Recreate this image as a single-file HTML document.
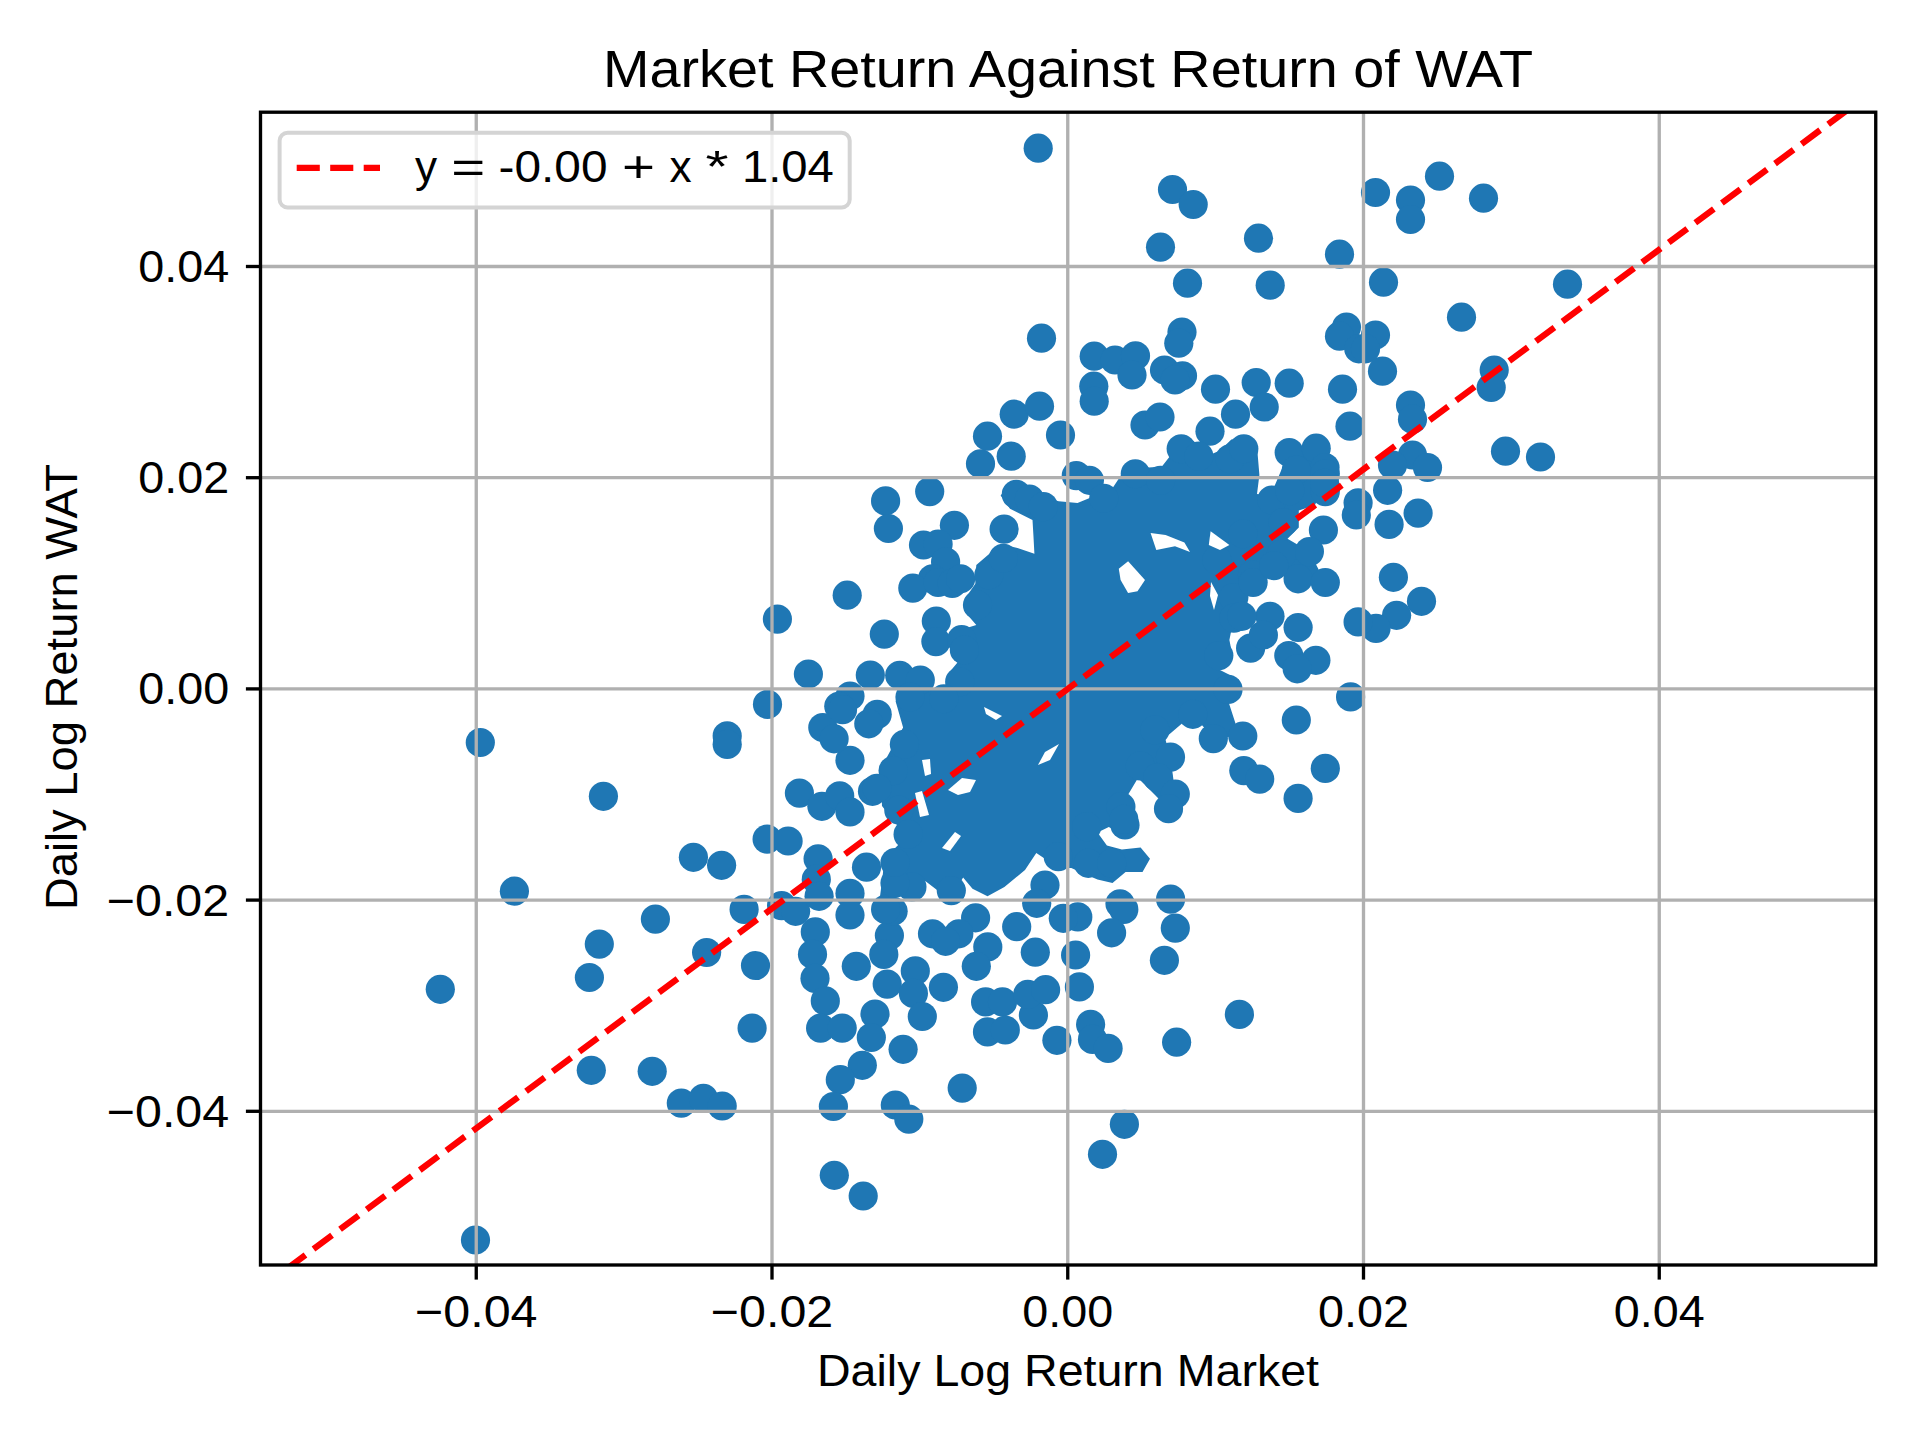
<!DOCTYPE html><html><head><meta charset="utf-8"><style>html,body{margin:0;padding:0;background:#fff;overflow:hidden}svg{display:block}text{font-family:"Liberation Sans",sans-serif;fill:#000}</style></head><body><svg width="1920" height="1440" viewBox="0 0 1920 1440"><rect width="1920" height="1440" fill="#fff"/><defs><clipPath id="ax"><rect x="260.5" y="112.2" width="1615.25" height="1152.8"/></clipPath></defs><g clip-path="url(#ax)" fill="#1f77b4"><path d="M1000.6,495.6 L1010.0,484.4 L1028.8,488.1 L1043.8,497.5 L1058.8,501.3 L1077.5,503.1 L1100.0,493.8 L1111.3,490.0 L1122.5,473.1 L1135.6,460.0 L1148.8,467.5 L1161.9,466.6 L1171.3,454.4 L1178.8,435.6 L1193.8,441.3 L1210.6,454.4 L1220.0,450.6 L1231.3,439.4 L1250.0,437.5 L1257.5,452.5 L1259.4,475.0 L1257.0,494.0 L1270.4,495.8 L1289.0,452.0 L1316.0,448.0 L1324.6,483.3 L1315.0,505.0 L1298.8,510.6 L1298.8,527.5 L1287.5,538.8 L1309.4,551.6 L1325.3,582.5 L1298.1,578.8 L1273.8,565.6 L1253.1,582.5 L1246.3,595.0 L1246.3,610.0 L1248.1,625.0 L1231.3,630.6 L1229.4,640.0 L1233.1,658.8 L1220.0,670.0 L1238.8,679.4 L1241.9,690.0 L1227.9,700.0 L1239.5,735.7 L1213.3,738.6 L1192.8,714.3 L1165.0,738.0 L1170.5,757.1 L1175.3,794.1 L1168.5,808.7 L1155.0,795.0 L1138.0,778.0 L1120.9,806.7 L1123.8,819.4 L1125.6,836.3 L1108.8,826.9 L1097.5,832.5 L1106.9,845.6 L1121.9,849.4 L1140.6,847.5 L1150.0,858.8 L1142.5,871.9 L1125.6,871.9 L1112.5,883.1 L1097.5,879.4 L1088.1,875.6 L1071.3,868.1 L1058.8,868.1 L1036.3,853.1 L1025.0,870.0 L1004.4,886.9 L987.5,896.3 L972.5,888.8 L963.1,877.5 L950.0,900.0 L925.6,881.3 L916.3,875.6 L905.0,888.8 L893.8,898.1 L878.8,905.6 L882.5,877.5 L884.4,858.8 L899.4,843.8 L897.0,825.0 L882.0,806.0 L880.6,768.8 L893.8,744.4 L903.1,727.5 L895.6,701.3 L900.0,690.0 L935.0,688.0 L946.3,688.8 L948.1,673.8 L957.5,662.5 L950.0,651.3 L951.9,632.5 L976.3,625.0 L965.0,611.9 L965.0,598.8 L975.3,583.8 L976.3,565.0 L989.4,553.8 L1002.5,544.4 L1017.5,548.1 L1034.4,553.8 L1033.4,535.0 L1032.5,520.0 L1010.0,508.8 Z"/><circle cx="1038.2" cy="148.2" r="14.6"/><circle cx="1172.5" cy="189.5" r="14.6"/><circle cx="1193.2" cy="204.5" r="14.6"/><circle cx="1160.5" cy="247.2" r="14.6"/><circle cx="1258.5" cy="238.2" r="14.6"/><circle cx="1339.5" cy="254.2" r="14.6"/><circle cx="1187.5" cy="283.2" r="14.6"/><circle cx="1270.2" cy="285.2" r="14.6"/><circle cx="1041.5" cy="338.2" r="14.6"/><circle cx="1182.0" cy="332.0" r="14.6"/><circle cx="1178.8" cy="343.2" r="14.6"/><circle cx="1346.5" cy="327.0" r="14.6"/><circle cx="1339.5" cy="336.2" r="14.6"/><circle cx="1358.8" cy="348.8" r="14.6"/><circle cx="1094.2" cy="356.2" r="14.6"/><circle cx="1115.0" cy="360.0" r="14.6"/><circle cx="1135.5" cy="355.8" r="14.6"/><circle cx="1132.0" cy="375.0" r="14.6"/><circle cx="1164.5" cy="370.0" r="14.6"/><circle cx="1182.5" cy="375.8" r="14.6"/><circle cx="1175.0" cy="380.0" r="14.6"/><circle cx="1093.8" cy="386.2" r="14.6"/><circle cx="1094.2" cy="401.2" r="14.6"/><circle cx="1215.5" cy="389.2" r="14.6"/><circle cx="1256.2" cy="382.5" r="14.6"/><circle cx="1289.2" cy="383.2" r="14.6"/><circle cx="1342.5" cy="389.2" r="14.6"/><circle cx="1264.2" cy="407.0" r="14.6"/><circle cx="1235.5" cy="414.2" r="14.6"/><circle cx="1350.0" cy="426.2" r="14.6"/><circle cx="1014.2" cy="414.2" r="14.6"/><circle cx="1039.5" cy="406.2" r="14.6"/><circle cx="987.5" cy="436.2" r="14.6"/><circle cx="1060.5" cy="435.0" r="14.6"/><circle cx="1145.0" cy="425.0" r="14.6"/><circle cx="1160.0" cy="417.0" r="14.6"/><circle cx="1210.0" cy="431.2" r="14.6"/><circle cx="1011.2" cy="456.2" r="14.6"/><circle cx="980.5" cy="463.8" r="14.6"/><circle cx="1181.2" cy="448.8" r="14.6"/><circle cx="1198.8" cy="456.2" r="14.6"/><circle cx="1230.0" cy="458.8" r="14.6"/><circle cx="1243.8" cy="448.8" r="14.6"/><circle cx="1289.2" cy="452.5" r="14.6"/><circle cx="1316.2" cy="448.2" r="14.6"/><circle cx="1375.5" cy="192.5" r="14.6"/><circle cx="1410.5" cy="200.0" r="14.6"/><circle cx="1410.5" cy="219.5" r="14.6"/><circle cx="1439.5" cy="176.2" r="14.6"/><circle cx="1483.5" cy="198.2" r="14.6"/><circle cx="1383.5" cy="282.2" r="14.6"/><circle cx="1567.5" cy="284.2" r="14.6"/><circle cx="1461.5" cy="317.2" r="14.6"/><circle cx="1375.5" cy="335.0" r="14.6"/><circle cx="1365.5" cy="348.8" r="14.6"/><circle cx="1382.5" cy="371.2" r="14.6"/><circle cx="1494.2" cy="370.0" r="14.6"/><circle cx="1491.2" cy="387.5" r="14.6"/><circle cx="1410.5" cy="405.0" r="14.6"/><circle cx="1412.5" cy="419.2" r="14.6"/><circle cx="1505.5" cy="451.2" r="14.6"/><circle cx="1540.5" cy="457.0" r="14.6"/><circle cx="1412.5" cy="455.0" r="14.6"/><circle cx="1392.5" cy="465.0" r="14.6"/><circle cx="1427.5" cy="467.5" r="14.6"/><circle cx="1325.0" cy="467.5" r="14.6"/><circle cx="929.7" cy="491.6" r="14.6"/><circle cx="885.6" cy="500.9" r="14.6"/><circle cx="888.4" cy="528.5" r="14.6"/><circle cx="954.4" cy="525.3" r="14.6"/><circle cx="923.5" cy="545.0" r="14.6"/><circle cx="938.1" cy="544.1" r="14.6"/><circle cx="945.6" cy="561.9" r="14.6"/><circle cx="932.5" cy="578.8" r="14.6"/><circle cx="912.8" cy="588.1" r="14.6"/><circle cx="938.1" cy="582.5" r="14.6"/><circle cx="952.2" cy="583.4" r="14.6"/><circle cx="960.6" cy="578.8" r="14.6"/><circle cx="988.8" cy="575.0" r="14.6"/><circle cx="847.2" cy="595.2" r="14.6"/><circle cx="777.4" cy="619.1" r="14.6"/><circle cx="936.3" cy="621.0" r="14.6"/><circle cx="935.9" cy="641.6" r="14.6"/><circle cx="884.3" cy="634.1" r="14.6"/><circle cx="977.5" cy="605.0" r="14.6"/><circle cx="961.6" cy="639.7" r="14.6"/><circle cx="964.4" cy="650.0" r="14.6"/><circle cx="808.4" cy="674.0" r="14.6"/><circle cx="870.3" cy="675.0" r="14.6"/><circle cx="899.7" cy="675.3" r="14.6"/><circle cx="920.3" cy="680.0" r="14.6"/><circle cx="959.7" cy="681.9" r="14.6"/><circle cx="850.0" cy="696.0" r="14.6"/><circle cx="838.8" cy="706.3" r="14.6"/><circle cx="767.5" cy="704.4" r="14.6"/><circle cx="910.0" cy="697.0" r="14.6"/><circle cx="943.8" cy="698.8" r="14.6"/><circle cx="1004.1" cy="529.1" r="14.6"/><circle cx="1016.3" cy="494.4" r="14.6"/><circle cx="1029.4" cy="499.0" r="14.6"/><circle cx="1043.4" cy="506.6" r="14.6"/><circle cx="1076.3" cy="475.6" r="14.6"/><circle cx="1089.4" cy="480.3" r="14.6"/><circle cx="1135.3" cy="473.8" r="14.6"/><circle cx="1160.6" cy="480.3" r="14.6"/><circle cx="1243.0" cy="533.8" r="14.6"/><circle cx="1216.9" cy="560.0" r="14.6"/><circle cx="1252.5" cy="575.0" r="14.6"/><circle cx="1233.8" cy="597.5" r="14.6"/><circle cx="1233.8" cy="618.1" r="14.6"/><circle cx="1250.6" cy="648.1" r="14.6"/><circle cx="1218.8" cy="655.6" r="14.6"/><circle cx="1228.0" cy="689.4" r="14.6"/><circle cx="1387.6" cy="490.3" r="14.6"/><circle cx="1418.1" cy="513.1" r="14.6"/><circle cx="1389.1" cy="524.4" r="14.6"/><circle cx="1358.1" cy="502.8" r="14.6"/><circle cx="1356.3" cy="515.0" r="14.6"/><circle cx="1323.4" cy="530.0" r="14.6"/><circle cx="1325.3" cy="491.6" r="14.6"/><circle cx="1325.3" cy="473.8" r="14.6"/><circle cx="1296.3" cy="470.0" r="14.6"/><circle cx="1271.9" cy="500.0" r="14.6"/><circle cx="1289.7" cy="490.6" r="14.6"/><circle cx="1283.1" cy="522.5" r="14.6"/><circle cx="1309.4" cy="551.6" r="14.6"/><circle cx="1281.3" cy="554.4" r="14.6"/><circle cx="1298.1" cy="578.8" r="14.6"/><circle cx="1325.3" cy="582.5" r="14.6"/><circle cx="1253.1" cy="582.5" r="14.6"/><circle cx="1273.8" cy="565.6" r="14.6"/><circle cx="1393.4" cy="577.3" r="14.6"/><circle cx="1421.5" cy="601.3" r="14.6"/><circle cx="1396.6" cy="615.3" r="14.6"/><circle cx="1376.0" cy="628.4" r="14.6"/><circle cx="1358.1" cy="621.9" r="14.6"/><circle cx="1270.0" cy="616.3" r="14.6"/><circle cx="1298.1" cy="627.5" r="14.6"/><circle cx="1263.4" cy="635.0" r="14.6"/><circle cx="1241.9" cy="616.3" r="14.6"/><circle cx="1288.8" cy="655.6" r="14.6"/><circle cx="1315.9" cy="660.3" r="14.6"/><circle cx="1297.2" cy="668.8" r="14.6"/><circle cx="1350.6" cy="696.9" r="14.6"/><circle cx="1296.3" cy="720.0" r="14.6"/><circle cx="1242.8" cy="736.0" r="14.6"/><circle cx="1243.8" cy="770.6" r="14.6"/><circle cx="1259.7" cy="779.1" r="14.6"/><circle cx="1325.3" cy="768.4" r="14.6"/><circle cx="1298.1" cy="798.4" r="14.6"/><circle cx="727.2" cy="735.9" r="14.6"/><circle cx="727.2" cy="744.4" r="14.6"/><circle cx="693.4" cy="857.3" r="14.6"/><circle cx="721.6" cy="865.3" r="14.6"/><circle cx="655.4" cy="919.1" r="14.6"/><circle cx="744.1" cy="909.4" r="14.6"/><circle cx="767.1" cy="839.1" r="14.6"/><circle cx="788.1" cy="841.0" r="14.6"/><circle cx="799.4" cy="793.1" r="14.6"/><circle cx="821.9" cy="806.3" r="14.6"/><circle cx="839.7" cy="795.9" r="14.6"/><circle cx="850.0" cy="811.9" r="14.6"/><circle cx="872.5" cy="791.3" r="14.6"/><circle cx="850.0" cy="760.3" r="14.6"/><circle cx="822.8" cy="727.5" r="14.6"/><circle cx="834.1" cy="738.8" r="14.6"/><circle cx="842.5" cy="709.7" r="14.6"/><circle cx="877.2" cy="714.4" r="14.6"/><circle cx="868.8" cy="723.8" r="14.6"/><circle cx="818.1" cy="858.8" r="14.6"/><circle cx="816.3" cy="879.4" r="14.6"/><circle cx="866.5" cy="867.2" r="14.6"/><circle cx="781.6" cy="905.6" r="14.6"/><circle cx="795.6" cy="911.3" r="14.6"/><circle cx="819.1" cy="896.3" r="14.6"/><circle cx="850.0" cy="893.4" r="14.6"/><circle cx="850.0" cy="915.0" r="14.6"/><circle cx="815.3" cy="931.9" r="14.6"/><circle cx="889.4" cy="935.6" r="14.6"/><circle cx="883.8" cy="954.4" r="14.6"/><circle cx="812.5" cy="954.4" r="14.6"/><circle cx="706.6" cy="952.5" r="14.6"/><circle cx="856.3" cy="966.3" r="14.6"/><circle cx="975.6" cy="917.8" r="14.6"/><circle cx="958.8" cy="933.8" r="14.6"/><circle cx="932.5" cy="933.8" r="14.6"/><circle cx="945.6" cy="941.3" r="14.6"/><circle cx="987.8" cy="946.9" r="14.6"/><circle cx="893.1" cy="911.3" r="14.6"/><circle cx="885.6" cy="909.4" r="14.6"/><circle cx="951.3" cy="890.6" r="14.6"/><circle cx="911.9" cy="886.9" r="14.6"/><circle cx="895.0" cy="883.1" r="14.6"/><circle cx="895.0" cy="862.5" r="14.6"/><circle cx="898.8" cy="810.0" r="14.6"/><circle cx="904.4" cy="744.4" r="14.6"/><circle cx="893.1" cy="770.6" r="14.6"/><circle cx="908.1" cy="834.4" r="14.6"/><circle cx="480.3" cy="742.5" r="14.6"/><circle cx="603.4" cy="796.3" r="14.6"/><circle cx="514.4" cy="891.2" r="14.6"/><circle cx="599.3" cy="944.1" r="14.6"/><circle cx="440.3" cy="989.3" r="14.6"/><circle cx="589.4" cy="977.5" r="14.6"/><circle cx="755.5" cy="965.5" r="14.6"/><circle cx="752.1" cy="1028.1" r="14.6"/><circle cx="591.3" cy="1070.3" r="14.6"/><circle cx="652.2" cy="1071.3" r="14.6"/><circle cx="681.3" cy="1103.1" r="14.6"/><circle cx="703.4" cy="1098.4" r="14.6"/><circle cx="722.2" cy="1106.0" r="14.6"/><circle cx="475.5" cy="1240.0" r="14.6"/><circle cx="815.0" cy="978.4" r="14.6"/><circle cx="825.3" cy="1000.9" r="14.6"/><circle cx="820.6" cy="1028.1" r="14.6"/><circle cx="842.2" cy="1028.1" r="14.6"/><circle cx="887.2" cy="984.1" r="14.6"/><circle cx="915.3" cy="970.9" r="14.6"/><circle cx="913.4" cy="993.4" r="14.6"/><circle cx="922.3" cy="1016.5" r="14.6"/><circle cx="875.0" cy="1014.1" r="14.6"/><circle cx="871.3" cy="1037.5" r="14.6"/><circle cx="903.1" cy="1049.3" r="14.6"/><circle cx="862.3" cy="1065.3" r="14.6"/><circle cx="840.3" cy="1079.7" r="14.6"/><circle cx="833.4" cy="1106.5" r="14.6"/><circle cx="895.3" cy="1105.0" r="14.6"/><circle cx="908.8" cy="1119.1" r="14.6"/><circle cx="962.2" cy="1088.1" r="14.6"/><circle cx="943.4" cy="987.3" r="14.6"/><circle cx="976.3" cy="966.3" r="14.6"/><circle cx="985.6" cy="1001.9" r="14.6"/><circle cx="1002.5" cy="1001.9" r="14.6"/><circle cx="987.5" cy="1031.9" r="14.6"/><circle cx="1005.3" cy="1030.0" r="14.6"/><circle cx="1033.4" cy="1015.0" r="14.6"/><circle cx="1027.8" cy="994.4" r="14.6"/><circle cx="1045.6" cy="989.7" r="14.6"/><circle cx="1035.3" cy="952.2" r="14.6"/><circle cx="1075.6" cy="955.0" r="14.6"/><circle cx="1079.4" cy="986.9" r="14.6"/><circle cx="1056.9" cy="1040.3" r="14.6"/><circle cx="1090.6" cy="1024.4" r="14.6"/><circle cx="1092.5" cy="1039.4" r="14.6"/><circle cx="834.3" cy="1175.3" r="14.6"/><circle cx="863.2" cy="1196.0" r="14.6"/><circle cx="1164.4" cy="960.3" r="14.6"/><circle cx="1239.4" cy="1014.4" r="14.6"/><circle cx="1176.6" cy="1042.2" r="14.6"/><circle cx="1108.1" cy="1048.4" r="14.6"/><circle cx="1124.4" cy="1124.3" r="14.6"/><circle cx="1102.5" cy="1154.3" r="14.6"/><circle cx="1170.6" cy="899.1" r="14.6"/><circle cx="1175.3" cy="928.1" r="14.6"/><circle cx="1120.0" cy="903.8" r="14.6"/><circle cx="1123.8" cy="909.4" r="14.6"/><circle cx="1111.6" cy="932.8" r="14.6"/><circle cx="1077.8" cy="916.9" r="14.6"/><circle cx="1045.0" cy="885.0" r="14.6"/><circle cx="1036.7" cy="903.3" r="14.6"/><circle cx="1058.3" cy="856.7" r="14.6"/><circle cx="1088.3" cy="863.3" r="14.6"/><circle cx="1111.7" cy="863.3" r="14.6"/><circle cx="1016.7" cy="926.7" r="14.6"/><circle cx="1063.3" cy="918.3" r="14.6"/><circle cx="1125.0" cy="825.0" r="14.6"/><circle cx="1086.7" cy="826.7" r="14.6"/><circle cx="1003.3" cy="558.3" r="14.6"/><circle cx="877.0" cy="788.3" r="14.6"/><circle cx="1154.9" cy="729.9" r="14.6"/><circle cx="1192.8" cy="714.3" r="14.6"/><circle cx="1213.3" cy="738.6" r="14.6"/><circle cx="1170.5" cy="757.1" r="14.6"/><circle cx="1140.3" cy="765.9" r="14.6"/><circle cx="1157.8" cy="777.5" r="14.6"/><circle cx="1175.3" cy="794.1" r="14.6"/><circle cx="1168.5" cy="808.7" r="14.6"/><circle cx="1120.9" cy="806.7" r="14.6"/><circle cx="1123.8" cy="819.4" r="14.6"/><circle cx="1103.8" cy="498.3" r="14.6"/><circle cx="1324.6" cy="483.3" r="14.6"/></g><g fill="#fff"><path d="M1118.8,568.8 L1128.1,561.3 L1145.0,580.0 L1137.5,591.3 L1128.1,593.1 L1120.6,580.0 Z"/><path d="M1150.6,533.1 L1165.6,535.0 L1184.4,542.5 L1190.0,551.9 L1175.0,546.3 L1156.3,550.0 Z"/><path d="M1210.6,531.3 L1229.4,545.0 L1220.0,550.0 L1208.8,545.0 Z"/><path d="M1211.0,582.0 L1218.0,595.0 L1214.0,610.0 L1210.0,596.0 Z"/><path d="M984.0,707.0 L1002.0,716.0 L996.0,720.0 L986.0,714.0 Z"/><path d="M1059.0,744.0 L1050.0,760.0 L1038.0,765.0 L1045.0,752.0 Z"/><path d="M948.0,790.0 L962.0,778.0 L976.0,780.0 L970.0,792.0 L958.0,795.0 Z"/><path d="M915.0,793.0 L922.0,791.0 L929.0,815.0 L920.0,817.0 Z"/><path d="M942.0,848.0 L955.0,832.0 L961.0,836.0 L950.0,851.0 Z"/><path d="M922.0,760.0 L930.0,759.0 L931.0,774.0 L925.0,776.0 Z"/></g><g stroke="#b0b0b0" stroke-width="3.33" fill="none"><line x1="476.25" y1="112.2" x2="476.25" y2="1265.0"/><line x1="772.00" y1="112.2" x2="772.00" y2="1265.0"/><line x1="1067.75" y1="112.2" x2="1067.75" y2="1265.0"/><line x1="1363.50" y1="112.2" x2="1363.50" y2="1265.0"/><line x1="1659.25" y1="112.2" x2="1659.25" y2="1265.0"/><line x1="260.5" y1="266.50" x2="1875.75" y2="266.50"/><line x1="260.5" y1="477.70" x2="1875.75" y2="477.70"/><line x1="260.5" y1="688.90" x2="1875.75" y2="688.90"/><line x1="260.5" y1="900.10" x2="1875.75" y2="900.10"/><line x1="260.5" y1="1111.30" x2="1875.75" y2="1111.30"/></g><g clip-path="url(#ax)"><line x1="260.35" y1="1288.54" x2="1875.15" y2="89.26" stroke="#ff0000" stroke-width="6.25" stroke-dasharray="23.1 10" /></g><rect x="260.5" y="112.2" width="1615.25" height="1152.8" fill="none" stroke="#000" stroke-width="3.33" stroke-linejoin="miter"/><g stroke="#000" stroke-width="3.33"><line x1="476.25" y1="1265.0" x2="476.25" y2="1279.6"/><line x1="772.00" y1="1265.0" x2="772.00" y2="1279.6"/><line x1="1067.75" y1="1265.0" x2="1067.75" y2="1279.6"/><line x1="1363.50" y1="1265.0" x2="1363.50" y2="1279.6"/><line x1="1659.25" y1="1265.0" x2="1659.25" y2="1279.6"/><line x1="260.5" y1="266.50" x2="245.9" y2="266.50"/><line x1="260.5" y1="477.70" x2="245.9" y2="477.70"/><line x1="260.5" y1="688.90" x2="245.9" y2="688.90"/><line x1="260.5" y1="900.10" x2="245.9" y2="900.10"/><line x1="260.5" y1="1111.30" x2="245.9" y2="1111.30"/></g><text x="476.25" y="1327" font-size="44.2" text-anchor="middle" textLength="122.5" lengthAdjust="spacingAndGlyphs">−0.04</text><text x="772.00" y="1327" font-size="44.2" text-anchor="middle" textLength="122.5" lengthAdjust="spacingAndGlyphs">−0.02</text><text x="1067.75" y="1327" font-size="44.2" text-anchor="middle" textLength="91.0" lengthAdjust="spacingAndGlyphs">0.00</text><text x="1363.50" y="1327" font-size="44.2" text-anchor="middle" textLength="91.0" lengthAdjust="spacingAndGlyphs">0.02</text><text x="1659.25" y="1327" font-size="44.2" text-anchor="middle" textLength="91.0" lengthAdjust="spacingAndGlyphs">0.04</text><text x="229.2" y="282.00" font-size="44.2" text-anchor="end" textLength="91.0" lengthAdjust="spacingAndGlyphs">0.04</text><text x="229.2" y="493.20" font-size="44.2" text-anchor="end" textLength="91.0" lengthAdjust="spacingAndGlyphs">0.02</text><text x="229.2" y="704.40" font-size="44.2" text-anchor="end" textLength="91.0" lengthAdjust="spacingAndGlyphs">0.00</text><text x="229.2" y="915.60" font-size="44.2" text-anchor="end" textLength="122.5" lengthAdjust="spacingAndGlyphs">−0.02</text><text x="229.2" y="1126.80" font-size="44.2" text-anchor="end" textLength="122.5" lengthAdjust="spacingAndGlyphs">−0.04</text><text x="1068" y="87" font-size="52.6" text-anchor="middle" textLength="930" lengthAdjust="spacingAndGlyphs">Market Return Against Return of WAT</text><text x="1068" y="1386" font-size="44.2" text-anchor="middle" textLength="502" lengthAdjust="spacingAndGlyphs">Daily Log Return Market</text><text transform="translate(77,687) rotate(-90)" x="0" y="0" font-size="44.2" text-anchor="middle" textLength="446" lengthAdjust="spacingAndGlyphs">Daily Log Return WAT</text><rect x="279.6" y="132.8" width="570.1" height="74.7" rx="8" ry="8" fill="#fff" fill-opacity="0.8" stroke="#d4d4d4" stroke-width="4"/><line x1="296.7" y1="167.8" x2="380" y2="167.8" stroke="#ff0000" stroke-width="6.25" stroke-dasharray="23.1 10.4"/><text x="426.0" y="182" font-size="44.2" text-anchor="middle">y</text><text x="468.2" y="182" font-size="44.2" text-anchor="middle" textLength="34" lengthAdjust="spacingAndGlyphs">=</text><text x="553.0" y="182" font-size="44.2" text-anchor="middle" textLength="109" lengthAdjust="spacingAndGlyphs">-0.00</text><text x="638.6" y="182" font-size="44.2" text-anchor="middle" textLength="33" lengthAdjust="spacingAndGlyphs">+</text><text x="680.5" y="182" font-size="44.2" text-anchor="middle">x</text><text x="716.9" y="182" font-size="44.2" text-anchor="middle" textLength="23" lengthAdjust="spacingAndGlyphs">*</text><text x="787.9" y="182" font-size="44.2" text-anchor="middle" textLength="92" lengthAdjust="spacingAndGlyphs">1.04</text></svg></body></html>
